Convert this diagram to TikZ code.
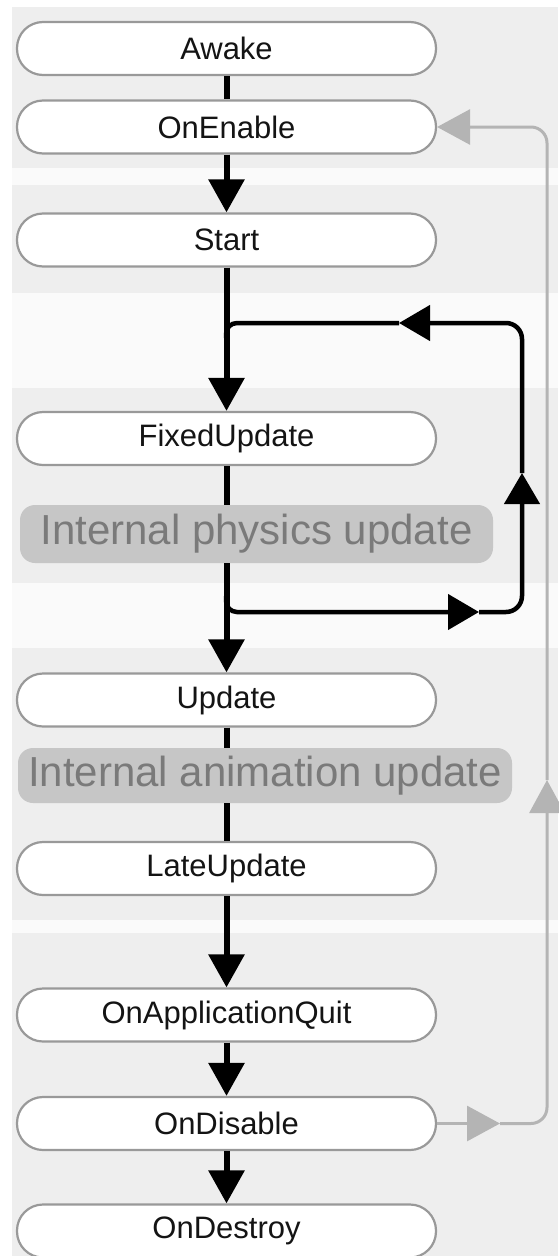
\documentclass[tikz,border=0pt]{standalone}
\usepackage{fontspec}
\setmainfont{Liberation Sans}
\usepackage{tikz}
\usetikzlibrary{arrows.meta}
\definecolor{bandgray}{HTML}{EEEEEE}
\definecolor{gapgray}{HTML}{FAFAFA}
\definecolor{boxgray}{HTML}{999999}
\definecolor{textdark}{HTML}{141414}
\definecolor{intgray}{HTML}{C6C6C6}
\definecolor{inttext}{HTML}{7A7A7A}
\definecolor{retgray}{HTML}{B4B4B4}

\begin{document}
\begin{tikzpicture}[x=1pt,y=-1pt,
  event/.style={draw=boxgray,line width=2.2pt,fill=white,rounded corners=26pt,
    minimum width=419pt,minimum height=53pt,inner sep=0pt,text=textdark,
    font=\fontsize{31}{36}\selectfont},
  internal/.style={fill=intgray,rounded corners=15pt,inner sep=0pt,text=inttext,
    font=\fontsize{42}{48}\selectfont},
  link/.style={line width=6pt},
  flow/.style={link,-{Triangle[width=35pt,length=33pt]}},
  cycle/.style={line width=4.5pt},
  cycleflow/.style={cycle,-{Triangle[width=35pt,length=31pt]}},
  retline/.style={draw=retgray,line width=3pt},
  retflow/.style={retline,-{Triangle[width=35pt,length=33pt]}}]
\useasboundingbox (0,0) rectangle (558,1256);
\fill[white] (0,0) rectangle (558,1256);
\fill[gapgray] (12,7) rectangle (558,1256);
\foreach \top/\bot in {7/168,185/293,388/583,648/920,933/1256}
  \fill[bandgray] (12,\top) rectangle (558,\bot);

\node[event] (awake) at (226.5,48.5) {Awake};
\node[event] (onenable) at (226.5,127) {OnEnable};
\node[event] (start) at (226.5,240) {Start};
\node[event] (fixedupdate) at (226.5,438.5) {FixedUpdate};
\node[internal,minimum width=473pt,minimum height=58pt] (physics) at (256.5,534) {Internal physics update};
\node[event] (update) at (226.5,700) {Update};
\node[internal,minimum width=494pt,minimum height=55pt] (animation) at (265,775.5) {Internal animation update};
\node[event] (lateupdate) at (226.5,868.5) {LateUpdate};
\node[event] (quit) at (226.5,1015) {OnApplicationQuit};
\node[event] (ondisable) at (226.5,1123.5) {OnDisable};
\node[event] (ondestroy) at (226.5,1231) {OnDestroy};

\draw[link] (awake) -- (onenable);
\draw[flow] (onenable) -- (start);
\draw[flow] (start) -- (fixedupdate);
\draw[link] (fixedupdate) -- (physics.north -| fixedupdate.south);
\draw[flow] (physics.south -| update.north) -- (update);
\draw[link] (update) -- (animation.north -| update.south);
\draw[link] (animation.south -| lateupdate.north) -- (lateupdate);
\draw[flow] (lateupdate) -- (quit);
\draw[flow] (quit) -- (ondisable);
\draw[flow] (ondisable) -- (ondestroy);

% physics loop
\coordinate (loopout) at (226,596);
\coordinate (loopin) at (226,338);
\coordinate (fwd) at (479,612);
\coordinate (up) at (522,473);
\coordinate (back) at (399,323);
\draw[cycleflow,rounded corners=11pt] (loopout) |- (fwd);
\draw[cycleflow,rounded corners=16pt] (fwd) -| (up);
\draw[cycleflow,rounded corners=16pt] (up) |- (back);
\draw[cycle,rounded corners=11pt] (back) -| (loopin);

% return path
\coordinate (retout) at (500,1123.5);
\coordinate (retup) at (547,780);
\draw[retflow] (ondisable) -- (retout);
\draw[retflow,rounded corners=16pt] (retout) -| (retup);
\draw[retflow,rounded corners=16pt] (retup) |- (onenable);
\end{tikzpicture}
\end{document}
